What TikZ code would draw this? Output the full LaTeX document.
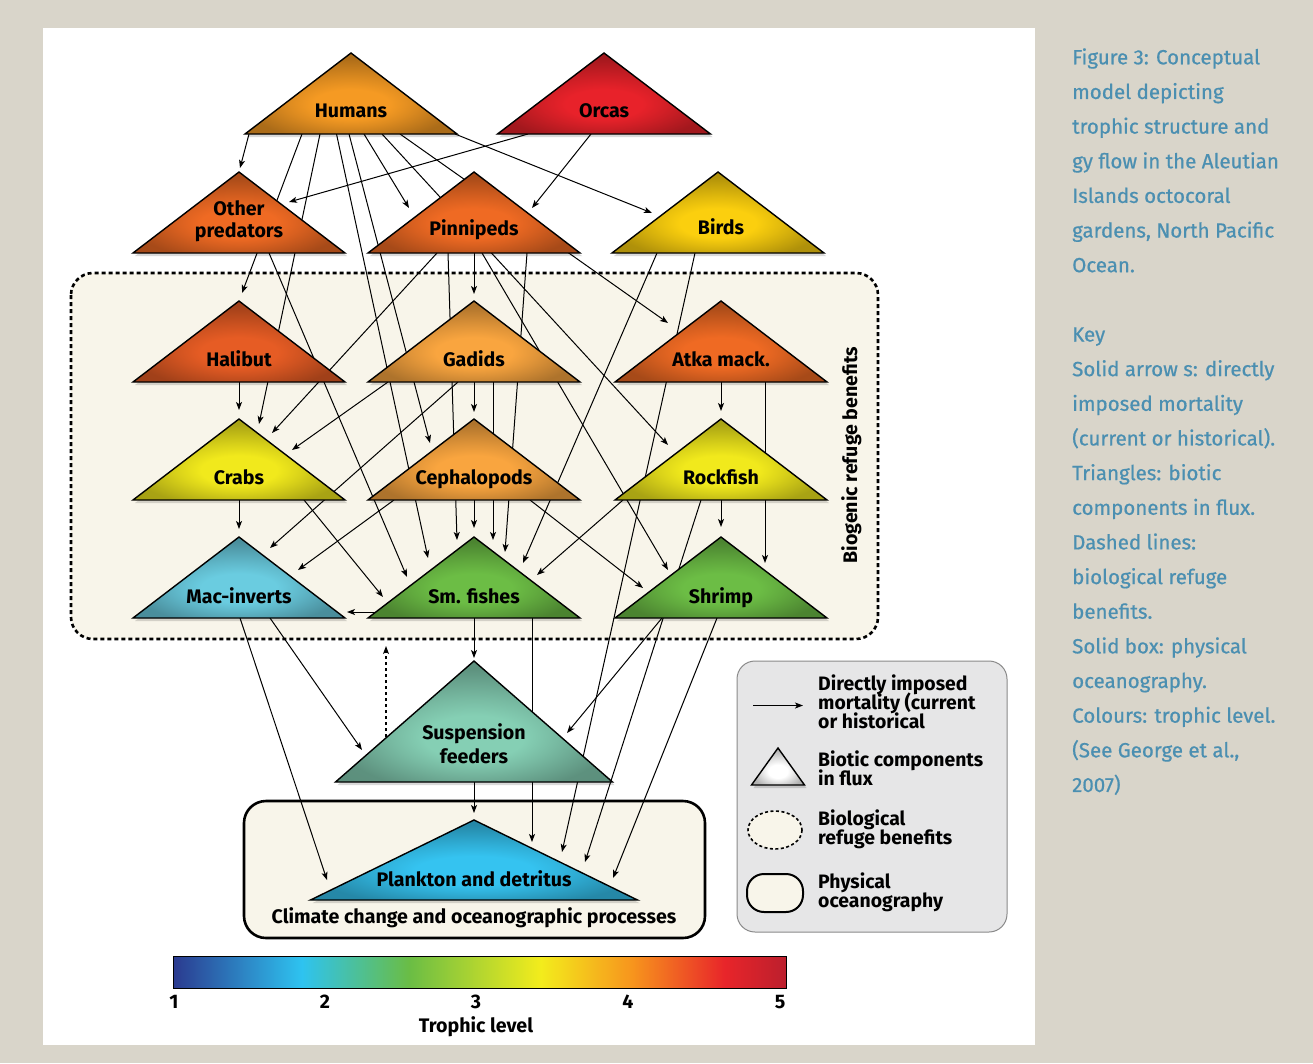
\documentclass[tikz,border=0pt]{standalone}
\usepackage{fontspec}
\setmainfont{Fira Sans}
\newfontfamily\capfont{Fira Sans}[FakeBold=0.6]
\usetikzlibrary{arrows.meta}
\definecolor{bgbeige}{HTML}{D9D5CA}
\definecolor{cream}{HTML}{F8F5EA}
\definecolor{capblue}{HTML}{4B8FB1}
\definecolor{leggray}{HTML}{E6E6E7}
\definecolor{legedge}{HTML}{8A8A8A}
\definecolor{cHum}{HTML}{F59A23}
\definecolor{cOrc}{HTML}{E8222A}
\definecolor{cOrg}{HTML}{EF6A23}
\definecolor{cBir}{HTML}{FBCF0E}
\definecolor{cHal}{HTML}{E65C24}
\definecolor{cGad}{HTML}{F9A53F}
\definecolor{cYel}{HTML}{F1E91C}
\definecolor{cMac}{HTML}{6ACCE0}
\definecolor{cGrn}{HTML}{6CBD45}
\definecolor{cSus}{HTML}{85CFB4}
\definecolor{cPla}{HTML}{35C3F0}
\definecolor{tlA}{HTML}{2B3A8F}
\definecolor{tlB}{HTML}{2EC3F0}
\definecolor{tlC}{HTML}{6ABD45}
\definecolor{tlD}{HTML}{F3EC1C}
\definecolor{tlE}{HTML}{F7941D}
\definecolor{tlF}{HTML}{E8252A}
\definecolor{tlG}{HTML}{BC1F2D}
\colorlet{tricol}{white}
\pgfdeclareradialshading[tricol]{triglow}{\pgfpoint{0bp}{-8bp}}{color(0bp)=(tricol); color(9bp)=(tricol); color(15bp)=(tricol!90!black); color(26bp)=(tricol!70!black); color(50bp)=(tricol!66!black)}
\pgfdeclarehorizontalshading{troph}{100bp}{color(0bp)=(tlA); color(25bp)=(tlA); color(35.5bp)=(tlB); color(44.25bp)=(tlC); color(55bp)=(tlD); color(62.5bp)=(tlE); color(70bp)=(tlF); color(75bp)=(tlG); color(100bp)=(tlG)}
\newcommand\tri[4]{%
 \colorlet{tricol}{#4}%
 \fill[black,opacity=.15] ([shift={(2,3)}]#1) -- ++(-#2,#3) -- ++(2*#2,0) -- cycle;
 \shadedraw[shading=triglow,draw=black,line width=1.4pt] (#1) -- ++(-#2,#3) -- ++(2*#2,0) -- cycle;}
\tikzset{
 arr/.style={line width=1pt,-{Stealth[length=8pt,width=6pt,inset=2pt]}},
 lab/.style={font=\fontsize{19.6}{21}\selectfont\bfseries, inner sep=0pt, anchor=base},
 leg/.style={font=\fontsize{19.4}{21}\selectfont\bfseries, inner sep=0pt, anchor=base west},
 captxt/.style={font=\capfont\fontsize{20.5}{22}\selectfont, text=capblue, inner sep=0pt, anchor=base west},
}
\begin{document}
\begin{tikzpicture}[x=1pt,y=-1pt]
\useasboundingbox (0,0) rectangle (1313,1063);
\fill[bgbeige] (0,0) rectangle (1313,1063);
\fill[white] (43,28) rectangle (1035,1045);
% boxes
\draw[fill=cream, line width=2.6pt, draw=black, dash pattern=on 4pt off 3pt, rounded corners=22pt] (71,273) rectangle (878,639);
\draw[fill=cream, line width=2.6pt, rounded corners=22pt] (244,801) rectangle (705,938);
% apex coordinates
\coordinate (Hum) at (351,53);
\coordinate (Orc) at (604,53);
\coordinate (Oth) at (239,172);
\coordinate (Pin) at (474,172);
\coordinate (Bir) at (718,172);
\coordinate (Hal) at (239,301);
\coordinate (Gad) at (474,301);
\coordinate (Atk) at (721,301);
\coordinate (Cra) at (239,419);
\coordinate (Cep) at (474,419);
\coordinate (Roc) at (721,419);
\coordinate (Mac) at (239,537);
\coordinate (Smf) at (474,537);
\coordinate (Shr) at (721,537);
\coordinate (Sus) at (474,661);
\coordinate (Pla) at (474,820);
\coordinate (refTop) at (386,646);
% connectors
\draw[arr] ([shift={(-102,81)}]Hum) -- ([shift={(1,-4)}]Oth);
\draw[arr] ([shift={(-49,81)}]Hum) -- ([shift={(3,-8)}]Hal);
\draw[arr] ([shift={(-31,81)}]Hum) -- ([shift={(20,5)}]Cra);
\draw[arr] ([shift={(-14.5,81)}]Hum) -- ([shift={(-46,21)}]Smf);
\draw[arr] ([shift={(-2,81)}]Hum) -- ([shift={(-44,24)}]Cep);
\draw[arr] ([shift={(13,81)}]Hum) -- ([shift={(-65,36)}]Pin);
\draw[arr] ([shift={(31,81)}]Hum) -- ([shift={(-53,26)}]Roc);
\draw[arr] ([shift={(49,81)}]Hum) -- ([shift={(-53,22)}]Atk);
\draw[arr] ([shift={(104,81)}]Hum) -- ([shift={(-66,41)}]Bir);
\draw[arr] ([shift={(-76,81)}]Orc) -- ([shift={(50,30)}]Oth);
\draw[arr] ([shift={(-13,81)}]Orc) -- ([shift={(58,36)}]Pin);
\draw[arr] ([shift={(30,81)}]Oth) -- ([shift={(-67,40)}]Smf);
\draw[arr] ([shift={(-37,81)}]Pin) -- ([shift={(33,14)}]Cra);
\draw[arr] ([shift={(-26,81)}]Pin) -- ([shift={(-17,3)}]Smf);
\draw[arr] ([shift={(0,81)}]Pin) -- ([shift={(0,-7)}]Gad);
\draw[arr] ([shift={(8,81)}]Pin) -- ([shift={(-53,33)}]Shr);
\draw[arr] ([shift={(53,81)}]Pin) -- ([shift={(31,15)}]Smf);
\draw[arr] ([shift={(-61,81)}]Bir) -- ([shift={(49,26)}]Smf);
\draw[arr] ([shift={(-23,81)}]Bir) -- ([shift={(88,32)}]Pla);
\draw[arr] ([shift={(0,81)}]Hal) -- ([shift={(0,-9)}]Cra);
\draw[arr] ([shift={(-86,81)}]Gad) -- ([shift={(53,31)}]Cra);
\draw[arr] ([shift={(-16,81)}]Gad) -- ([shift={(31,11)}]Mac);
\draw[arr] ([shift={(0,81)}]Gad) -- ([shift={(0,-7)}]Cep);
\draw[arr] ([shift={(19,81)}]Gad) -- ([shift={(19,3)}]Smf);
\draw[arr] ([shift={(0,81)}]Atk) -- ([shift={(0,-8)}]Roc);
\draw[arr] ([shift={(44,81)}]Atk) -- ([shift={(44,26)}]Shr);
\draw[arr] ([shift={(0,81)}]Cra) -- ([shift={(0,-8)}]Mac);
\draw[arr] ([shift={(65,81)}]Cra) -- ([shift={(-91,60)}]Smf);
\draw[arr] ([shift={(-80,81)}]Cep) -- ([shift={(59,33)}]Mac);
\draw[arr] ([shift={(0,81)}]Cep) -- ([shift={(0,-9)}]Smf);
\draw[arr] ([shift={(56,81)}]Cep) -- ([shift={(-78,51)}]Shr);
\draw[arr] ([shift={(-98,81)}]Roc) -- ([shift={(63,38)}]Smf);
\draw[arr] ([shift={(0,81)}]Roc) -- ([shift={(0,-10)}]Shr);
\draw[arr] ([shift={(-20,81)}]Roc) -- ([shift={(111,42)}]Pla);
\draw[arr] ([shift={(-97,75)}]Smf) -- ([shift={(108,75)}]Mac);
\draw[arr] ([shift={(0,81)}]Smf) -- ([shift={(0,-3)}]Sus);
\draw[arr] ([shift={(58,81)}]Smf) -- ([shift={(58,22)}]Pla);
\draw[arr] ([shift={(1,81)}]Mac) -- ([shift={(-147,60)}]Pla);
\draw[arr] ([shift={(31,81)}]Mac) -- ([shift={(-112,89)}]Sus);
\draw[arr] ([shift={(-59,81)}]Shr) -- ([shift={(93,72)}]Sus);
\draw[arr] ([shift={(-4,81)}]Shr) -- ([shift={(139,58)}]Pla);
\draw[arr] ([shift={(0,121)}]Sus) -- ([shift={(0,-7)}]Pla);
\draw[arr, line width=1.3pt, dash pattern=on 3pt off 3pt] ([shift={(-88,76)}]Sus) -- (refTop);
% triangles
\tri{Hum}{106}{81}{cHum}
\tri{Orc}{106.5}{81}{cOrc}
\tri{Oth}{106}{81}{cOrg}
\tri{Pin}{106}{81}{cOrg}
\tri{Bir}{106}{81}{cBir}
\tri{Hal}{106}{81}{cHal}
\tri{Gad}{106}{81}{cGad}
\tri{Atk}{106}{81}{cOrg}
\tri{Cra}{106}{81}{cYel}
\tri{Cep}{106}{81}{cGad}
\tri{Roc}{106}{81}{cYel}
\tri{Mac}{106}{81}{cMac}
\tri{Smf}{106}{81}{cGrn}
\tri{Shr}{106}{81}{cGrn}
\tri{Sus}{138.5}{121}{cSus}
\tri{Pla}{163.5}{80}{cPla}
% labels
\node[lab] (lHum) at (351,117) {Humans};
\node[lab] (lOrc) at (604,117) {Orcas};
\node[lab] (lOth1) at (239,215) {Other};
\node[lab] (lOth2) at (239,237) {predators};
\node[lab] (lPin) at (474,235) {Pinnipeds};
\node[lab] (lBir) at (721,234) {Birds};
\node[lab] (lHal) at (239,366) {Halibut};
\node[lab] (lGad) at (474,366) {Gadids};
\node[lab] (lAtk) at (721,366) {Atka mack.};
\node[lab] (lCra) at (239,484) {Crabs};
\node[lab] (lCep) at (474,484) {Cephalopods};
\node[lab] (lRoc) at (721,484) {Rockfish};
\node[lab] (lMac) at (239,603) {Mac-inverts};
\node[lab] (lSmf) at (474,603) {Sm. fishes};
\node[lab] (lShr) at (721,603) {Shrimp};
\node[lab] (lSus1) at (474,739) {Suspension};
\node[lab] (lSus2) at (474,763) {feeders};
\node[lab] (lPla) at (474,886) {Plankton and detritus};
\node[lab] (lCli) at (474,923) {Climate change and oceanographic processes};
\node[lab, rotate=90] (lBio) at (857,455) {Biogenic refuge benefits};
% legend
\draw[fill=leggray, draw=legedge, line width=1pt, rounded corners=18pt] (737,661) rectangle (1007,932);
\coordinate (kA1) at (753,705.5);
\coordinate (kA2) at (803,705.5);
\draw[arr] (kA1) -- (kA2);
\coordinate (Key) at (778,748);
\tri{Key}{26.5}{37}{white}
\draw[fill=cream, line width=1.6pt, dash pattern=on 3pt off 2.5pt] (775,830) ellipse [x radius=27, y radius=19];
\draw[fill=cream, line width=2pt, rounded corners=17pt] (747,874) rectangle (803,912);
\node[leg] (k1a) at (818,690) {Directly imposed};
\node[leg] (k1b) at (818,709) {mortality (current};
\node[leg] (k1c) at (818,728) {or historical};
\node[leg] (k2a) at (818,766) {Biotic components};
\node[leg] (k2b) at (818,785) {in flux};
\node[leg] (k3a) at (818,825) {Biological};
\node[leg] (k3b) at (818,844) {refuge benefits};
\node[leg] (k4a) at (818,888) {Physical};
\node[leg] (k4b) at (818,907) {oceanography};
% colour bar
\shade[shading=troph] (173,956) rectangle (786,988);
\draw[line width=1pt] (173,956) rectangle (786,988);
\node[lab] (t1) at (174,1008) {1};
\node[lab] (t2) at (325,1008) {2};
\node[lab] (t3) at (476,1008) {3};
\node[lab] (t4) at (628,1008) {4};
\node[lab] (t5) at (780,1008) {5};
\node[lab] (tl) at (476,1032) {Trophic level};
% caption
\node[captxt] (c0) at (1072,64.3) {Figure 3: Conceptual};
\node[captxt] (c1) at (1072,98.95) {model depicting};
\node[captxt] (c2) at (1072,133.6) {trophic structure and};
\node[captxt] (c3) at (1072,168.25) {gy flow in the Aleutian};
\node[captxt] (c4) at (1072,202.9) {Islands octocoral};
\node[captxt] (c5) at (1072,237.55) {gardens, North Pacific};
\node[captxt] (c6) at (1072,272.2) {Ocean.};
\node[captxt] (c8) at (1072,341.5) {Key};
\node[captxt] (c9) at (1072,376.15) {Solid arrow s: directly};
\node[captxt] (c10) at (1072,410.8) {imposed mortality};
\node[captxt] (c11) at (1072,445.45) {(current or historical).};
\node[captxt] (c12) at (1072,480.1) {Triangles: biotic};
\node[captxt] (c13) at (1072,514.75) {components in flux.};
\node[captxt] (c14) at (1072,549.4) {Dashed lines:};
\node[captxt] (c15) at (1072,584.05) {biological refuge};
\node[captxt] (c16) at (1072,618.7) {benefits.};
\node[captxt] (c17) at (1072,653.35) {Solid box: physical};
\node[captxt] (c18) at (1072,688) {oceanography.};
\node[captxt] (c19) at (1072,722.65) {Colours: trophic level.};
\node[captxt] (c20) at (1072,757.3) {(See George et al.,};
\node[captxt] (c21) at (1072,791.95) {2007)};
\end{tikzpicture}
\end{document}
